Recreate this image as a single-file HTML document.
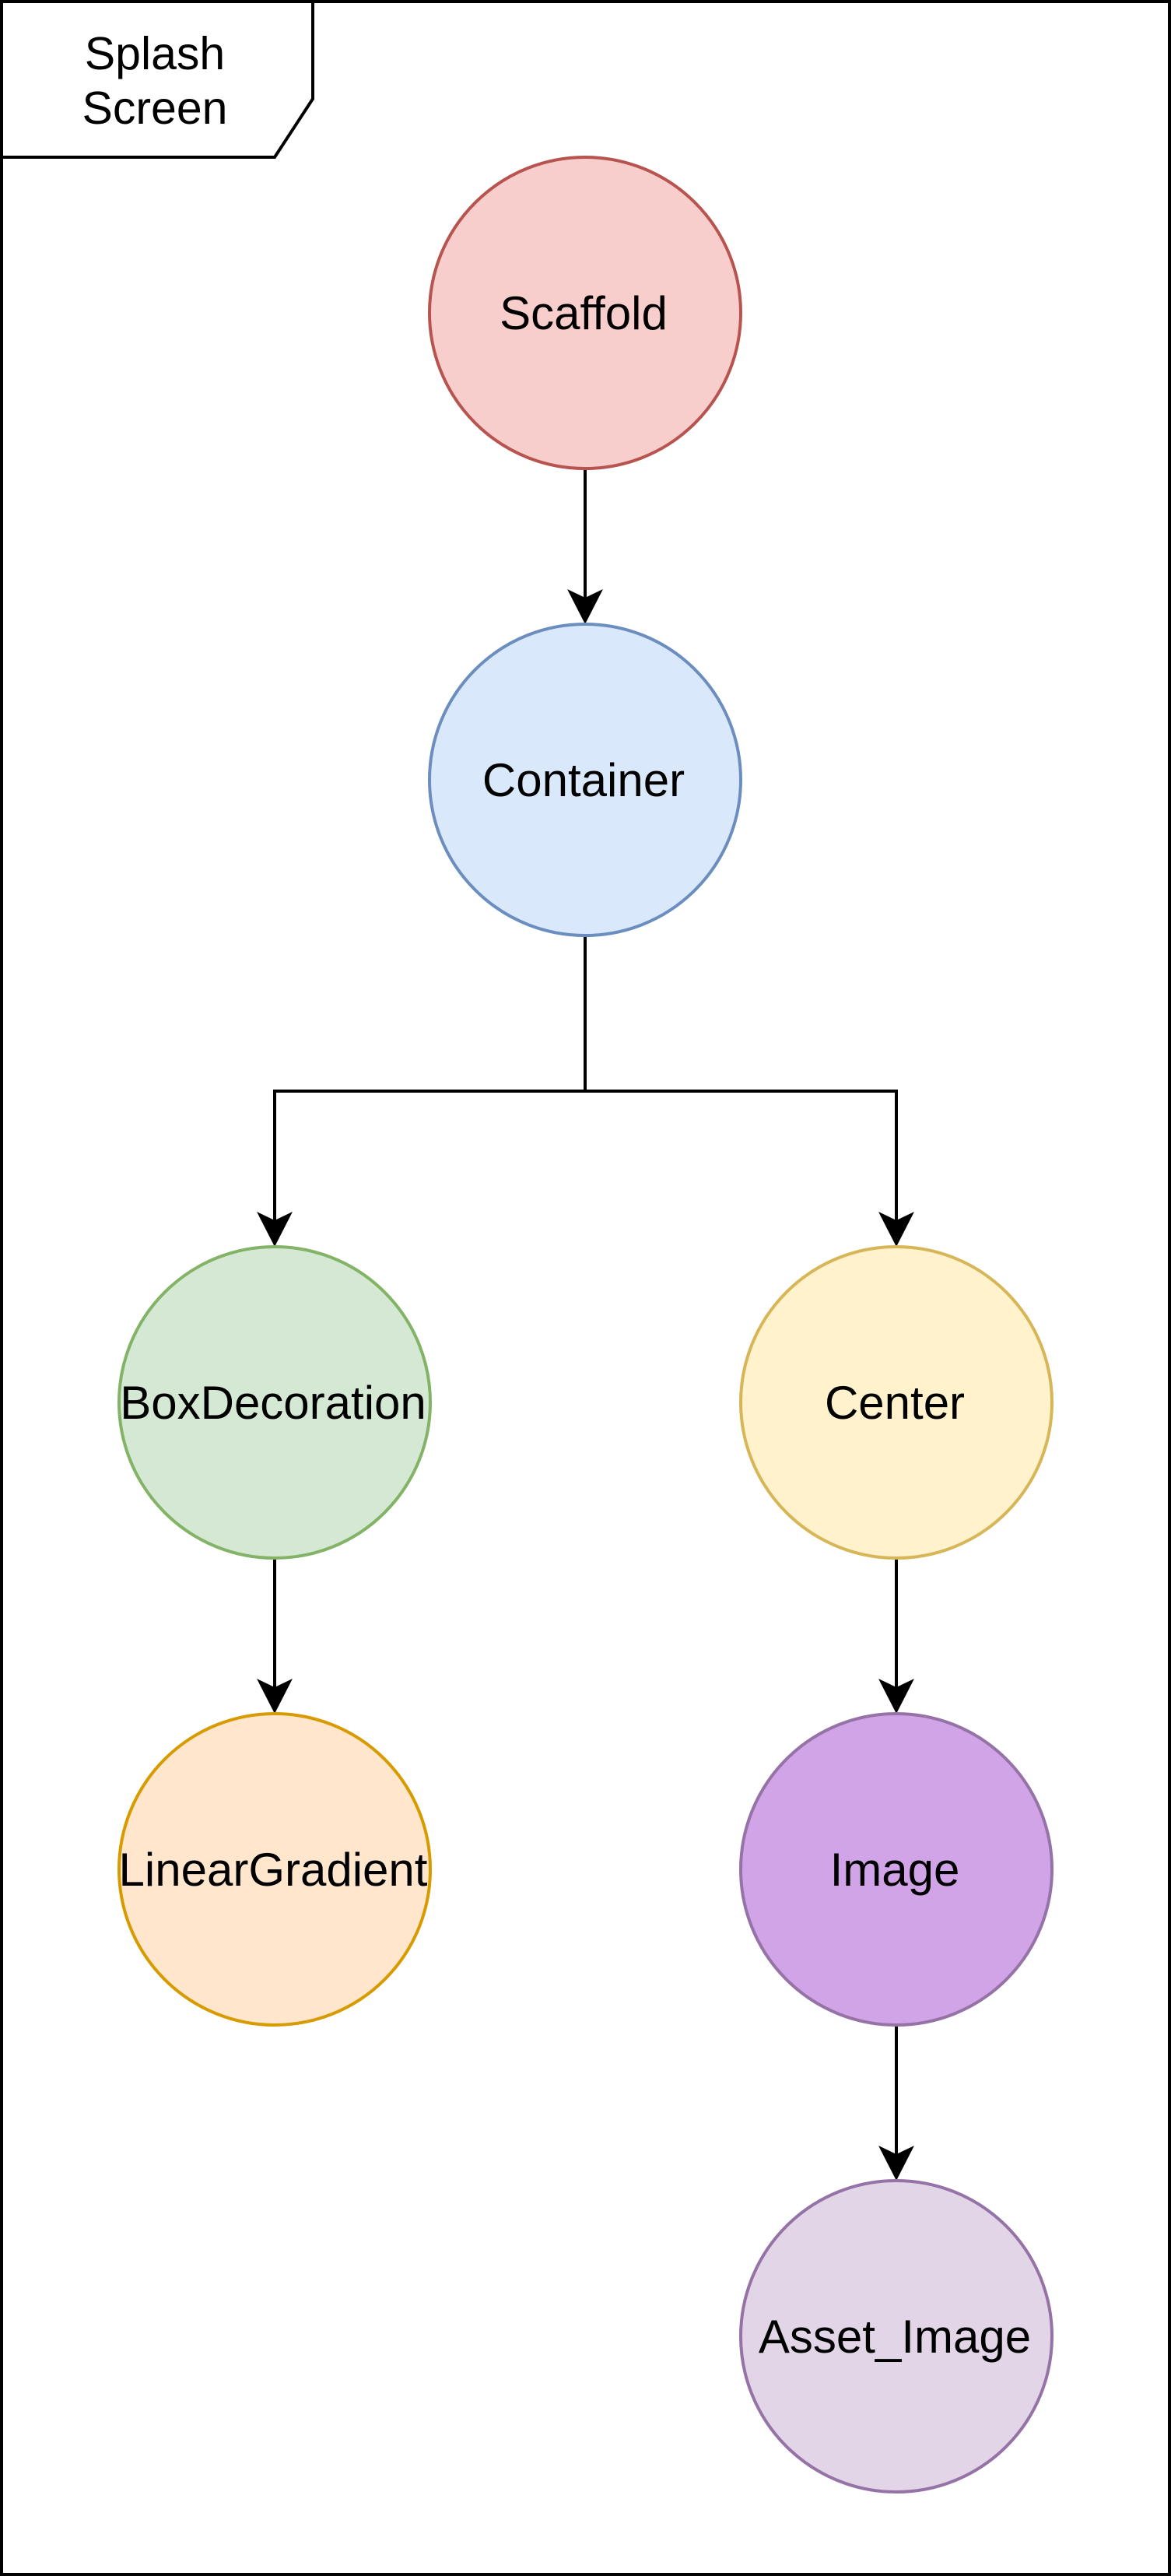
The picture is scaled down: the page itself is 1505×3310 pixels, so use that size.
<!DOCTYPE html>
<html><head><meta charset="utf-8"><style>html,body{margin:0;padding:0;background:#fff;}svg{display:block}</style></head>
<body>
<svg width="1505" height="3310" viewBox="0 0 1505 3310" xmlns="http://www.w3.org/2000/svg" font-family="Liberation Sans, Arial, sans-serif">
<rect x="2" y="2" width="1501" height="3306" fill="#fff" stroke="#000" stroke-width="4"/>
<polygon points="2,2 402,2 402,127 353,202 2,202" fill="#fff" stroke="#000" stroke-width="4"/>
<text x="199" y="89" font-size="59" text-anchor="middle">Splash</text>
<text x="199" y="159" font-size="59" text-anchor="middle">Screen</text>
<g stroke="#000" stroke-width="4" fill="none">
<path d="M752 602 V770"/>
<path d="M752 1202 V1402 H353 V1570"/>
<path d="M752 1402 H1152 V1570"/>
<path d="M353 2002 V2170"/>
<path d="M1152 2002 V2170"/>
<path d="M1152 2602 V2770"/>
</g>
<g fill="#000">
<path d="M729 757 L752 802 L775 757 L752 768 Z"/>
<path d="M330 1557 L353 1602 L376 1557 L353 1568 Z"/>
<path d="M1129 1557 L1152 1602 L1175 1557 L1152 1568 Z"/>
<path d="M330 2157 L353 2202 L376 2157 L353 2168 Z"/>
<path d="M1129 2157 L1152 2202 L1175 2157 L1152 2168 Z"/>
<path d="M1129 2757 L1152 2802 L1175 2757 L1152 2768 Z"/>
</g>
<g stroke-width="4">
<circle cx="752" cy="402" r="200" fill="#f8cecc" stroke="#b85450"/>
<circle cx="752" cy="1002" r="200" fill="#dae8fc" stroke="#6c8ebf"/>
<circle cx="353" cy="1802" r="200" fill="#d5e8d4" stroke="#82b366"/>
<circle cx="1152" cy="1802" r="200" fill="#fff2cc" stroke="#d6b656"/>
<circle cx="353" cy="2402" r="200" fill="#ffe6cc" stroke="#d79b00"/>
<circle cx="1152" cy="2402" r="200" fill="#d0a4e6" stroke="#9673a6"/>
<circle cx="1152" cy="3002" r="200" fill="#e1d5e7" stroke="#9673a6"/>
</g>
<g font-size="60" text-anchor="middle" fill="#000">
<text x="750" y="423">Scaffold</text>
<text x="750" y="1023">Container</text>
<text x="351" y="1823">BoxDecoration</text>
<text x="1150" y="1823">Center</text>
<text x="351" y="2423">LinearGradient</text>
<text x="1150" y="2423">Image</text>
<text x="1150" y="3023">Asset_Image</text>
</g>
</svg>
</body></html>
